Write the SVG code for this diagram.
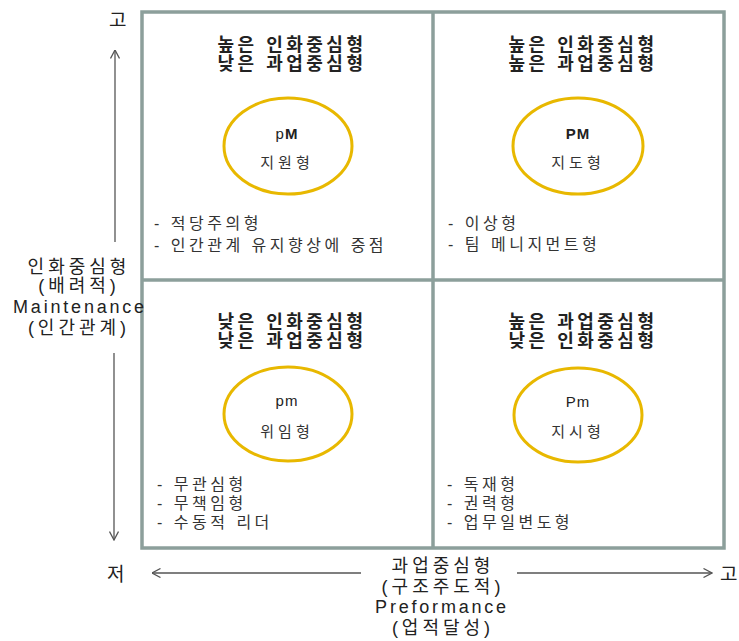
<svg xmlns="http://www.w3.org/2000/svg" width="739" height="641" viewBox="0 0 739 641">
<defs>
<style>
text{font-family:"Liberation Sans","Noto Sans CJK KR",sans-serif;}
.title{font-size:18px;font-weight:bold;fill:#222;letter-spacing:3.5px;text-anchor:middle;}
.code{font-size:15px;fill:#222;letter-spacing:1px;text-anchor:middle;}
.type{font-size:15px;fill:#333;letter-spacing:4px;text-anchor:middle;}
.item{font-size:16px;fill:#333;letter-spacing:3.5px;}
.axis{font-size:18px;fill:#222;letter-spacing:4px;text-anchor:middle;}
.axisen{font-size:18px;fill:#222;letter-spacing:2.8px;text-anchor:middle;}
.end{font-size:19px;fill:#222;}
.ell{fill:none;stroke:#e8b800;stroke-width:3;}
.grid{fill:none;stroke:#8c9f9b;stroke-width:3.5;}
.arr{fill:none;stroke:#555;stroke-width:1.3;marker-end:url(#head);}
</style>
<marker id="head" viewBox="0 0 10 10" refX="9.5" refY="5" markerWidth="10" markerHeight="10" markerUnits="userSpaceOnUse" orient="auto">
<path d="M1,0.5 L9.5,5 L1,9.5" fill="none" stroke="#555" stroke-width="1.3"/>
</marker>
</defs>
<rect width="739" height="641" fill="#fff"/>

<g id="grid">
<rect class="grid" x="142" y="12" width="582" height="536"/>
<line class="grid" x1="433" y1="12" x2="433" y2="548"/>
<line class="grid" x1="142" y1="280" x2="724" y2="280"/>
</g>

<g id="q-pM">
<text class="title" x="292" y="51">높은 인화중심형</text>
<text class="title" x="292" y="70">낮은 과업중심형</text>
<ellipse class="ell" cx="288" cy="146" rx="64" ry="48"/>
<text class="code" x="287" y="139">p<tspan font-weight="bold">M</tspan></text>
<text class="type" x="287" y="168">지원형</text>
<text class="item" x="154" y="229">- 적당주의형</text>
<text class="item" x="154" y="251">- 인간관계 유지향상에 중점</text>
</g>

<g id="q-PM">
<text class="title" x="583" y="51">높은 인화중심형</text>
<text class="title" x="583" y="70">높은 과업중심형</text>
<ellipse class="ell" cx="578" cy="146" rx="65" ry="48"/>
<text class="code" x="578" y="139" font-weight="bold">PM</text>
<text class="type" x="578" y="168">지도형</text>
<text class="item" x="448" y="229">- 이상형</text>
<text class="item" x="448" y="250">- 팀 메니지먼트형</text>
</g>

<g id="q-pm">
<text class="title" x="292" y="328">낮은 인화중심형</text>
<text class="title" x="292" y="347">낮은 과업중심형</text>
<ellipse class="ell" cx="288" cy="414" rx="64" ry="47"/>
<text class="code" x="287" y="406">pm</text>
<text class="type" x="287" y="437">위임형</text>
<text class="item" x="157" y="490">- 무관심형</text>
<text class="item" x="157" y="509">- 무책임형</text>
<text class="item" x="157" y="528">- 수동적 리더</text>
</g>

<g id="q-Pm">
<text class="title" x="583" y="328">높은 과업중심형</text>
<text class="title" x="583" y="347">낮은 인화중심형</text>
<ellipse class="ell" cx="578" cy="415" rx="64" ry="47"/>
<text class="code" x="578" y="407">Pm</text>
<text class="type" x="578" y="437">지시형</text>
<text class="item" x="447" y="490">- 독재형</text>
<text class="item" x="447" y="509">- 권력형</text>
<text class="item" x="447" y="528">- 업무일변도형</text>
</g>

<g id="axis-y">
<text class="end" x="109" y="27">고</text>
<text class="axis" x="79" y="273">인화중심형</text>
<text class="axis" x="79" y="292">(배려적)</text>
<text class="axisen" x="80" y="313">Maintenance</text>
<text class="axis" x="79" y="334">(인간관계)</text>
</g>

<g id="axis-x">
<text class="end" x="107" y="581">저</text>
<text class="end" x="720" y="581">고</text>
<text class="axis" x="443" y="572">과업중심형</text>
<text class="axis" x="443" y="593">(구조주도적)</text>
<text class="axisen" x="442" y="613">Preformance</text>
<text class="axis" x="443" y="634">(업적달성)</text>
</g>

<g id="connectors">
<line class="arr" x1="115" y1="242" x2="115" y2="50"/>
<line class="arr" x1="114" y1="353" x2="114" y2="540"/>
<line class="arr" x1="361" y1="573" x2="152" y2="573"/>
<line class="arr" x1="517" y1="573" x2="712" y2="573"/>
</g>
</svg>
